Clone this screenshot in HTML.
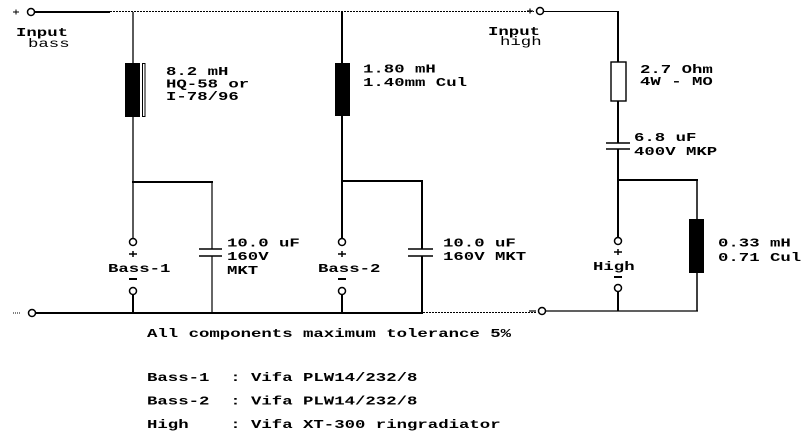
<!DOCTYPE html>
<html><head><meta charset="utf-8"><style>
html,body{margin:0;padding:0;background:#fff;}
svg{display:block;}
text{font-family:"Liberation Mono","DejaVu Sans Mono",monospace;font-size:12px;fill:#000;font-weight:bold;}
.n{font-weight:normal;}
</style></head><body>
<svg width="801" height="434" viewBox="0 0 801 434" xmlns="http://www.w3.org/2000/svg">
<rect width="801" height="434" fill="#fff"/>
<g stroke="#000" fill="none">
<!-- top wire -->
<line x1="13" y1="12" x2="19" y2="12" stroke-width="1"/>
<line x1="16" y1="9.5" x2="16" y2="14.5" stroke-width="1"/>
<line x1="35" y1="12" x2="110" y2="12" stroke-width="2"/>
<line x1="110" y1="11.5" x2="534" y2="11.5" stroke-width="1" stroke-dasharray="2 1"/>
<line x1="527" y1="11" x2="533" y2="11" stroke-width="1.2"/>
<line x1="530" y1="8.5" x2="530" y2="13.5" stroke-width="1.2"/>
<line x1="544" y1="11.5" x2="619" y2="11.5" stroke-width="1"/>

<!-- Bass-1 branch -->
<line x1="133" y1="12" x2="133" y2="63" stroke-width="1.3"/>
<line x1="133" y1="117" x2="133" y2="238.5" stroke-width="1.3"/>
<rect x="142.5" y="63.5" width="2.5" height="53" stroke-width="1"/>
<line x1="132" y1="182" x2="213" y2="182" stroke-width="2"/>
<line x1="212" y1="182" x2="212" y2="249" stroke-width="1.2"/>
<line x1="212" y1="256" x2="212" y2="313" stroke-width="1.2"/>
<line x1="199" y1="249" x2="222" y2="249" stroke-width="1.5"/>
<line x1="199" y1="256" x2="222" y2="256" stroke-width="1.5"/>
<line x1="133" y1="295" x2="133" y2="313" stroke-width="2"/>
<line x1="129" y1="254" x2="137" y2="254" stroke-width="1.5"/>
<line x1="133" y1="251" x2="133" y2="257" stroke-width="1.5"/>
<line x1="129" y1="279" x2="137" y2="279" stroke-width="2"/>

<!-- bottom wire -->
<line x1="13" y1="313" x2="21" y2="313" stroke-width="1" stroke-dasharray="1 1"/>
<line x1="36" y1="313" x2="423" y2="313" stroke-width="2"/>
<line x1="423" y1="312.5" x2="536" y2="312.5" stroke-width="1" stroke-dasharray="2 1"/>
<line x1="529" y1="311" x2="536" y2="311" stroke-width="1.2"/>
<line x1="546" y1="311" x2="698" y2="311" stroke-width="1.2"/>

<!-- Bass-2 branch -->
<line x1="342" y1="11" x2="342" y2="63" stroke-width="2"/>
<line x1="342" y1="116" x2="342" y2="238.5" stroke-width="2"/>
<line x1="341" y1="181" x2="423" y2="181" stroke-width="2"/>
<line x1="422" y1="181" x2="422" y2="249" stroke-width="2"/>
<line x1="422" y1="256" x2="422" y2="313" stroke-width="2"/>
<line x1="408" y1="249" x2="433" y2="249" stroke-width="1.5"/>
<line x1="408" y1="256" x2="433" y2="256" stroke-width="1.5"/>
<line x1="342" y1="295" x2="342" y2="313" stroke-width="2"/>
<line x1="338" y1="254" x2="346" y2="254" stroke-width="1.5"/>
<line x1="342" y1="251" x2="342" y2="257" stroke-width="1.5"/>
<line x1="338" y1="279" x2="346" y2="279" stroke-width="2"/>

<!-- High branch -->
<line x1="618" y1="11" x2="618" y2="62" stroke-width="2"/>
<rect x="611" y="62" width="15" height="39" fill="#fff" stroke-width="1.4"/>
<line x1="618" y1="101" x2="618" y2="143" stroke-width="2"/>
<line x1="606" y1="143" x2="630" y2="143" stroke-width="1.5"/>
<line x1="606" y1="149" x2="630" y2="149" stroke-width="1.5"/>
<line x1="618" y1="149" x2="618" y2="237.5" stroke-width="2"/>
<line x1="617" y1="180" x2="698" y2="180" stroke-width="2"/>
<line x1="697" y1="180" x2="697" y2="219" stroke-width="1.5"/>
<line x1="697" y1="273" x2="697" y2="311" stroke-width="1.5"/>
<line x1="618" y1="292" x2="618" y2="311" stroke-width="2"/>
<line x1="614" y1="252" x2="622" y2="252" stroke-width="1.5"/>
<line x1="618" y1="249" x2="618" y2="255" stroke-width="1.5"/>
<line x1="614" y1="277" x2="622" y2="277" stroke-width="2"/>
</g>

<!-- filled inductors -->
<rect x="125" y="63" width="15" height="54" fill="#000"/>
<rect x="335" y="63" width="15" height="53" fill="#000"/>
<rect x="689" y="219" width="15" height="54" fill="#000"/>

<!-- terminal circles -->
<g stroke="#000" stroke-width="1.5" fill="#fff">
<circle cx="31" cy="12" r="3.5"/>
<circle cx="540" cy="11" r="3.5"/>
<circle cx="32" cy="313" r="3.5"/>
<circle cx="542" cy="311" r="3.5"/>
<circle cx="133" cy="242" r="3.5"/>
<circle cx="133" cy="291" r="3.5"/>
<circle cx="342" cy="242" r="3.5"/>
<circle cx="342" cy="291" r="3.5"/>
<circle cx="618" cy="241" r="3.5"/>
<circle cx="618" cy="288" r="3.5"/>
</g>

<!-- labels -->
<text x="16" y="36" textLength="52" lengthAdjust="spacingAndGlyphs">Input</text>
<text class="n" x="28" y="47" textLength="41.6" lengthAdjust="spacingAndGlyphs">bass</text>
<text x="488" y="35" textLength="52" lengthAdjust="spacingAndGlyphs">Input</text>
<text class="n" x="500" y="45" textLength="41.6" lengthAdjust="spacingAndGlyphs">high</text>

<text x="166" y="75" textLength="62.4" lengthAdjust="spacingAndGlyphs">8.2 mH</text>
<text x="166" y="87.5" textLength="83.2" lengthAdjust="spacingAndGlyphs">HQ-58 or</text>
<text x="166" y="100" textLength="72.8" lengthAdjust="spacingAndGlyphs">I-78/96</text>

<text x="363" y="72.5" textLength="72.8" lengthAdjust="spacingAndGlyphs">1.80 mH</text>
<text x="363" y="86" textLength="104" lengthAdjust="spacingAndGlyphs">1.40mm Cul</text>

<text x="640" y="73" textLength="72.8" lengthAdjust="spacingAndGlyphs">2.7 Ohm</text>
<text x="640" y="85" textLength="72.8" lengthAdjust="spacingAndGlyphs">4W - MO</text>

<text x="634" y="141" textLength="62.4" lengthAdjust="spacingAndGlyphs">6.8 uF</text>
<text x="634" y="155" textLength="83.2" lengthAdjust="spacingAndGlyphs">400V MKP</text>

<text x="227" y="246.5" textLength="72.8" lengthAdjust="spacingAndGlyphs">10.0 uF</text>
<text x="227" y="260" textLength="41.6" lengthAdjust="spacingAndGlyphs">160V</text>
<text x="227" y="274" textLength="31.2" lengthAdjust="spacingAndGlyphs">MKT</text>

<text x="443" y="246.5" textLength="72.8" lengthAdjust="spacingAndGlyphs">10.0 uF</text>
<text x="443" y="260" textLength="83.2" lengthAdjust="spacingAndGlyphs">160V MKT</text>

<text x="718" y="246.5" textLength="72.8" lengthAdjust="spacingAndGlyphs">0.33 mH</text>
<text x="718" y="261" textLength="83.2" lengthAdjust="spacingAndGlyphs">0.71 Cul</text>

<text x="108" y="272" textLength="62.4" lengthAdjust="spacingAndGlyphs">Bass-1</text>
<text x="318" y="272" textLength="62.4" lengthAdjust="spacingAndGlyphs">Bass-2</text>
<text x="593" y="270" textLength="41.6" lengthAdjust="spacingAndGlyphs">High</text>

<text x="147" y="337" textLength="364" lengthAdjust="spacingAndGlyphs">All components maximum tolerance 5%</text>
<text x="147" y="381" textLength="270.4" lengthAdjust="spacingAndGlyphs" xml:space="preserve">Bass-1  : Vifa PLW14/232/8</text>
<text x="147" y="404.5" textLength="270.4" lengthAdjust="spacingAndGlyphs" xml:space="preserve">Bass-2  : Vifa PLW14/232/8</text>
<text x="147" y="428" textLength="353.6" lengthAdjust="spacingAndGlyphs" xml:space="preserve">High    : Vifa XT-300 ringradiator</text>
</svg>
</body></html>
